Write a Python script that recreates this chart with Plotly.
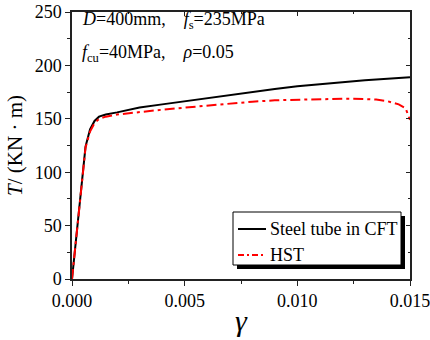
import plotly.graph_objects as go

# Data
x_steel = [0, 0.0003, 0.0006, 0.0008, 0.001, 0.0012, 0.0015, 0.002, 0.003, 0.004, 0.005,
           0.006, 0.007, 0.008, 0.009, 0.010, 0.011, 0.012, 0.013, 0.014, 0.015]
t_steel = [0, 62, 124, 140, 148, 152, 154, 156, 160.5, 163.5, 166.5,
           169, 172, 175.5, 178, 180.5, 182.5, 184.5, 186, 187.5, 189]

x_hst = [0, 0.0003, 0.0006, 0.0008, 0.001, 0.0012, 0.0015, 0.002, 0.003, 0.004, 0.005,
         0.006, 0.007, 0.008, 0.009, 0.010, 0.011, 0.012, 0.013, 0.0135, 0.014, 0.0145,
         0.0148, 0.015]
t_hst = [0, 62, 123, 138, 146, 150, 152, 154, 156.5, 158.5, 160.5,
         162.5, 164.5, 166, 167.3, 168, 168.5, 168.8, 168.5, 168, 166.5, 163.5,
         160, 149]

x_ticks = [0.0, 0.005, 0.010, 0.015]
x_tick_labels = ["0.000", "0.005", "0.010", "0.015"]
y_ticks = [0, 50, 100, 150, 200, 250]
series_names = ["Steel tube in CFT", "HST"]

FONT = "Times New Roman, Liberation Serif, serif"
RED_DASH = "10px,4px,3px,4px"
FS = 18

fig = go.Figure()
fig.add_trace(go.Scatter(x=x_steel, y=t_steel, mode="lines", name=series_names[0],
                         line=dict(color="black", width=2), showlegend=False))
fig.add_trace(go.Scatter(x=x_hst, y=t_hst, mode="lines", name=series_names[1],
                         line=dict(color="#ff0000", width=2, dash=RED_DASH), showlegend=False))

axis_common = dict(showgrid=False, zeroline=False, showline=True, linecolor="#222",
                   linewidth=1.5, tickcolor="#222", tickwidth=1.2)

fig.update_layout(
    width=430, height=340,
    margin=dict(l=72, r=20, t=12, b=61, autoexpand=False),
    plot_bgcolor="white", paper_bgcolor="white",
    font=dict(family=FONT, size=FS, color="black"),
    xaxis=dict(range=[0, 0.015], tickvals=x_ticks, ticktext=x_tick_labels,
               ticks="outside", ticklen=5, automargin=False, ticklabeloverflow="allow",
               minor=dict(ticks="outside", ticklen=3, dtick=0.0025, tickcolor="#222"),
               title=dict(text="<i>γ</i>", font=dict(size=30, family=FONT), standoff=0),
               **axis_common),
    yaxis=dict(range=[0, 250], tickvals=y_ticks, ticks="outside", ticklen=5,
               automargin=False, ticklabeloverflow="allow",
               minor=dict(ticks="outside", ticklen=3, dtick=25, tickcolor="#222"),
               title=dict(text="<i>T</i>/ (KN · m)", font=dict(size=21, family=FONT), standoff=6),
               **axis_common),
    xaxis2=dict(range=[0, 0.015], overlaying="x", side="top", tickvals=x_ticks,
                showticklabels=False, ticks="inside", ticklen=4, automargin=False,
                minor=dict(ticks="inside", ticklen=2, dtick=0.0025, tickcolor="#222"),
                **axis_common),
    yaxis2=dict(range=[0, 250], overlaying="y", side="right", tickvals=y_ticks,
                showticklabels=False, ticks="inside", ticklen=4, automargin=False,
                minor=dict(ticks="inside", ticklen=2, dtick=25, tickcolor="#222"),
                **axis_common),
    showlegend=False,
)

# dummy trace to activate the mirrored axes
fig.add_trace(go.Scatter(x=[None], y=[None], xaxis="x2", yaxis="y2", showlegend=False))


def px_x(p):
    return (p - 72) / 338


def px_y(p):
    return (279 - p) / 267


# manual legend: shadow, box, samples, labels
fig.add_shape(type="rect", xref="paper", yref="paper",
              x0=px_x(237), x1=px_x(405), y0=px_y(269), y1=px_y(216),
              fillcolor="black", line=dict(width=0), layer="above")
fig.add_shape(type="rect", xref="paper", yref="paper",
              x0=px_x(233), x1=px_x(401), y0=px_y(265), y1=px_y(212),
              fillcolor="white", line=dict(color="black", width=1), layer="above")
fig.add_shape(type="line", xref="paper", yref="paper",
              x0=px_x(238), x1=px_x(266), y0=px_y(229), y1=px_y(229),
              line=dict(color="black", width=2), layer="above")
fig.add_shape(type="line", xref="paper", yref="paper",
              x0=px_x(238), x1=px_x(266), y0=px_y(255), y1=px_y(255),
              line=dict(color="#ff0000", width=2, dash="6px,3px,2px,3px"), layer="above")
fig.add_annotation(xref="paper", yref="paper", x=px_x(268), y=px_y(229),
                   xanchor="left", yanchor="middle", showarrow=False,
                   text=series_names[0], font=dict(family=FONT, size=FS))
fig.add_annotation(xref="paper", yref="paper", x=px_x(268), y=px_y(255),
                   xanchor="left", yanchor="middle", showarrow=False,
                   text=series_names[1], font=dict(family=FONT, size=FS))

fig.add_annotation(xref="paper", yref="paper", x=px_x(80), y=px_y(21),
                   xanchor="left", yanchor="middle", showarrow=False,
                   text="<i>D</i>=400mm,    <i>f</i><sub>s</sub>=235MPa",
                   font=dict(family=FONT, size=FS))
fig.add_annotation(xref="paper", yref="paper", x=px_x(80), y=px_y(53),
                   xanchor="left", yanchor="middle", showarrow=False,
                   text="<i>f</i><sub>cu</sub>=40MPa,    <i>ρ</i>=0.05",
                   font=dict(family=FONT, size=FS))

fig.write_html("out.html")
